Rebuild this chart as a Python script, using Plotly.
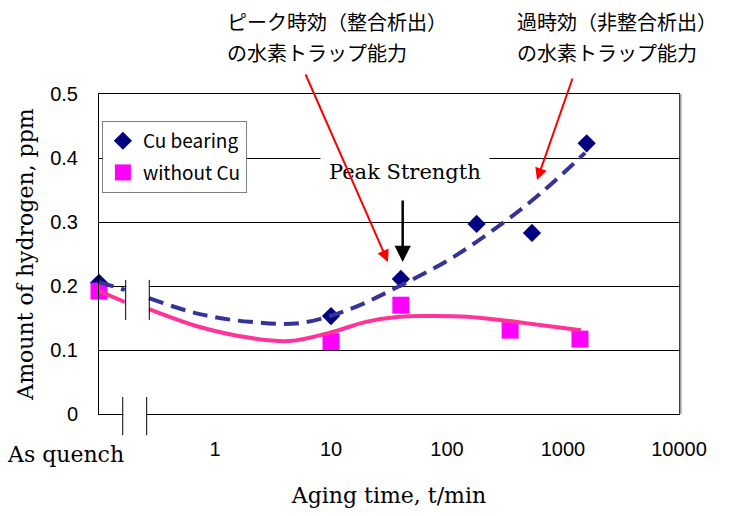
import plotly.graph_objects as go

# Position on the log time axis used for the as-quenched condition
AS_QUENCH = 0.1

# Measured hydrogen content (ppm) against aging time (min)
cu_time = [AS_QUENCH, 10, 40, 180, 540, 1600]
cu_h = [0.205, 0.153, 0.211, 0.297, 0.283, 0.423]

nocu_time = [AS_QUENCH, 10, 40, 350, 1400]
nocu_h = [0.192, 0.113, 0.170, 0.131, 0.117]

# Trend curves (broken across the axis break after the as-quenched point)
cu_trend_time = [0.1, 0.167, None, 0.27, 0.74, 2.0, 5.4, 14.6, 39, 106, 286, 634, 1549]
cu_trend_h = [0.206, 0.194, None, 0.181, 0.156, 0.144, 0.142, 0.164, 0.200, 0.242, 0.295, 0.344, 0.408]

nocu_trend_time = [0.1, 0.167, None, 0.27, 0.74, 2.0, 4.4, 9.8, 20, 39, 76, 149, 286, 634, 1429]
nocu_trend_h = [0.192, 0.175, None, 0.164, 0.136, 0.119, 0.114, 0.127, 0.144, 0.152, 0.153, 0.152, 0.147, 0.139, 0.131]

x_ticks = [1, 10, 100, 1000, 10000]
x_tick_text = ["1", "10", "100", "1000", "10000"]
y_ticks = [0, 0.1, 0.2, 0.3, 0.4, 0.5]
y_tick_text = ["0", "0.1", "0.2", "0.3", "0.4", "0.5"]

SERIF = "DejaVu Serif"
SANS = "Liberation Sans, Arial"
JP = "Noto Sans CJK JP"

fig = go.Figure()

fig.add_trace(go.Scatter(
    x=cu_time, y=cu_h, mode="markers", name="Cu bearing",
    legendgroup="cu",
    marker=dict(symbol="diamond", size=14, color="#000080"),
    cliponaxis=False,
))
fig.add_trace(go.Scatter(
    x=nocu_time, y=nocu_h, mode="markers", name="without Cu",
    legendgroup="nocu",
    marker=dict(symbol="square", size=17, color="#FF00FF"),
    cliponaxis=False,
))
fig.add_trace(go.Scatter(
    x=cu_trend_time, y=cu_trend_h, mode="lines", showlegend=False,
    line=dict(color="#333399", width=4, dash="15px,8px", shape="spline", smoothing=1.0),
    connectgaps=False, hoverinfo="skip",
))
fig.add_trace(go.Scatter(
    x=nocu_trend_time, y=nocu_trend_h, mode="lines", showlegend=False,
    line=dict(color="#FF3399", width=4, shape="spline", smoothing=1.0),
    connectgaps=False, hoverinfo="skip",
))

shapes = [
    # white patch interrupting the 0.2 gridline at the axis break
    dict(type="rect", xref="paper", yref="paper", x0=0.047, x1=0.086, y0=0.385, y1=0.415,
         fillcolor="white", line=dict(width=0), layer="above"),
    # break marks through the curves
    dict(type="line", xref="paper", yref="paper", x0=0.046, x1=0.046, y0=0.294, y1=0.419,
         line=dict(color="black", width=1), layer="above"),
    dict(type="line", xref="paper", yref="paper", x0=0.0867, x1=0.0867, y0=0.294, y1=0.419,
         line=dict(color="black", width=1), layer="above"),
    # gap in the time axis line
    dict(type="rect", xref="paper", yref="paper", x0=0.042, x1=0.081, y0=-0.012, y1=0.012,
         fillcolor="white", line=dict(width=0), layer="above"),
    dict(type="line", xref="paper", yref="paper", x0=0.0409, x1=0.0409, y0=-0.066, y1=0.053,
         line=dict(color="black", width=1), layer="above"),
    dict(type="line", xref="paper", yref="paper", x0=0.0822, x1=0.0822, y0=-0.066, y1=0.053,
         line=dict(color="black", width=1), layer="above"),
    # soft shadow on the right edge of the plot frame
    dict(type="line", xref="paper", yref="paper", x0=1.0028, x1=1.0028, y0=0.0, y1=1.0,
         line=dict(color="#A0A0A0", width=2), layer="above"),
]

annotations = [
    dict(text="As quench", xref="paper", yref="paper", x=-0.0586, y=-0.128,
         showarrow=False, font=dict(family=SERIF, size=22, color="black"),
         xanchor="center", yanchor="middle"),
    dict(text="Peak Strength", xref="paper", yref="paper", x=0.5276, y=0.756,
         showarrow=False, font=dict(family=SERIF, size=21, color="black"),
         bgcolor="white", borderpad=8, xanchor="center", yanchor="middle"),
    # arrow marking peak strength
    dict(text="", x=1.618, y=0.2375, xref="x", yref="y", ax=0, ay=-63,
         showarrow=True, arrowhead=2, arrowsize=1.3, arrowwidth=2.5, arrowcolor="black"),
    # red arrows from the notes
    dict(text="", x=1.491, y=0.2375, xref="x", yref="y", ax=-83, ay=-189,
         showarrow=True, arrowhead=2, arrowsize=1.2, arrowwidth=2, arrowcolor="#FF0000"),
    dict(text="", x=2.776, y=0.3656, xref="x", yref="y", ax=36, ay=-103,
         showarrow=True, arrowhead=2, arrowsize=1.2, arrowwidth=2, arrowcolor="#FF0000"),
    dict(text="ピーク時効（整合析出）", xref="paper", yref="paper", x=0.2172, y=1.228,
         showarrow=False, xanchor="left", yanchor="middle",
         font=dict(family=JP, size=20, color="black")),
    dict(text="の水素トラップ能力", xref="paper", yref="paper", x=0.2172, y=1.131,
         showarrow=False, xanchor="left", yanchor="middle",
         font=dict(family=JP, size=20, color="black")),
    dict(text="過時効（非整合析出）", xref="paper", yref="paper", x=0.717, y=1.228,
         showarrow=False, xanchor="left", yanchor="middle",
         font=dict(family=JP, size=20, color="black")),
    dict(text="の水素トラップ能力", xref="paper", yref="paper", x=0.717, y=1.131,
         showarrow=False, xanchor="left", yanchor="middle",
         font=dict(family=JP, size=20, color="black")),
]

fig.update_layout(
    width=734, height=516,
    margin=dict(l=99, r=55, t=94, b=102),
    paper_bgcolor="white", plot_bgcolor="white",
    showlegend=True,
    legend=dict(
        x=0.005, y=0.916, xanchor="left", yanchor="top",
        bgcolor="white", bordercolor="#808080", borderwidth=1,
        font=dict(family=JP, size=19, color="black"),
        tracegroupgap=4, traceorder="grouped", itemwidth=30,
    ),
    xaxis=dict(
        type="log", range=[-1, 4],
        tickvals=x_ticks, ticktext=x_tick_text,
        showgrid=False, zeroline=False,
        showline=True, linecolor="black", linewidth=1, mirror=True,
        ticks="", ticklabelstandoff=17,
        tickfont=dict(family=SANS, size=20, color="black"),
        title=dict(text="Aging time, t/min", standoff=28,
                   font=dict(family=SERIF, size=22, color="black")),
    ),
    yaxis=dict(
        range=[0, 0.5],
        tickvals=y_ticks, ticktext=y_tick_text,
        showgrid=True, gridcolor="black", gridwidth=1, zeroline=False,
        showline=True, linecolor="black", linewidth=1, mirror=True,
        ticks="", ticklabelstandoff=16,
        tickfont=dict(family=SANS, size=20, color="black"),
        title=dict(text="Amount of hydrogen, ppm", standoff=10,
                   font=dict(family=SERIF, size=22, color="black")),
    ),
    shapes=shapes,
    annotations=annotations,
)

fig.write_html("out.html")
